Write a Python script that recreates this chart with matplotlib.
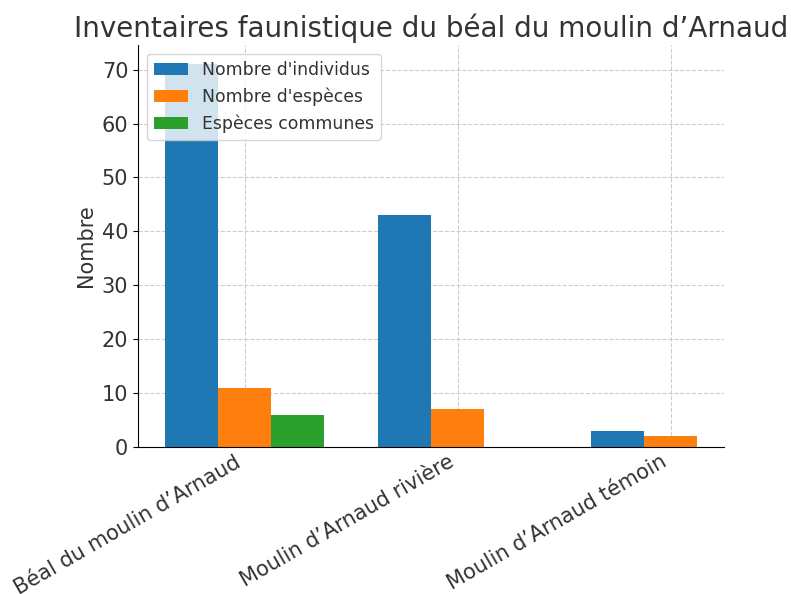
import matplotlib
matplotlib.use("Agg")
import matplotlib.pyplot as plt
import numpy as np

# Donnees
sites = ["Béal du moulin d’Arnaud", "Moulin d’Arnaud rivière", "Moulin d’Arnaud témoin"]
individus = [71, 43, 3]
especes = [11, 7, 2]
communes = [6, 0, 0]

BLUE = "#1f77b4"
ORANGE = "#ff7f0e"
GREEN = "#2ca02c"
TEXT = "#333333"

x = np.arange(len(sites))
w = 0.25

fig = plt.figure(figsize=(7.91, 5.94), dpi=100)
ax = fig.add_axes([0.1745, 0.2475, 0.7405, 0.6765])

ax.bar(x - w, individus, w, color=BLUE, label="Nombre d'individus")
ax.bar(x, especes, w, color=ORANGE, label="Nombre d'espèces")
ax.bar(x[:2] + w, communes[:2], w, color=GREEN, label="Espèces communes")

ax.set_xlim(-0.5, 2.25)
ax.set_xticks(x)
ax.set_xticklabels(sites, rotation=30, ha="right", fontsize=15, color=TEXT)
ax.set_ylabel("Nombre", fontsize=15, color=TEXT)
ax.set_title("Inventaires faunistique du béal du moulin d’Arnaud", fontsize=20, color=TEXT)

ax.grid(True, linestyle="--", color="#cccccc", linewidth=0.8)
ax.set_axisbelow(True)
for s in ("top", "right"):
    ax.spines[s].set_visible(False)
ax.tick_params(axis="y", labelsize=15, labelcolor=TEXT)
ax.tick_params(axis="x", direction="in")

ax.legend(loc="upper left", fontsize=12.4, labelcolor=TEXT, framealpha=0.8)

fig.savefig("out.png", dpi=100)
